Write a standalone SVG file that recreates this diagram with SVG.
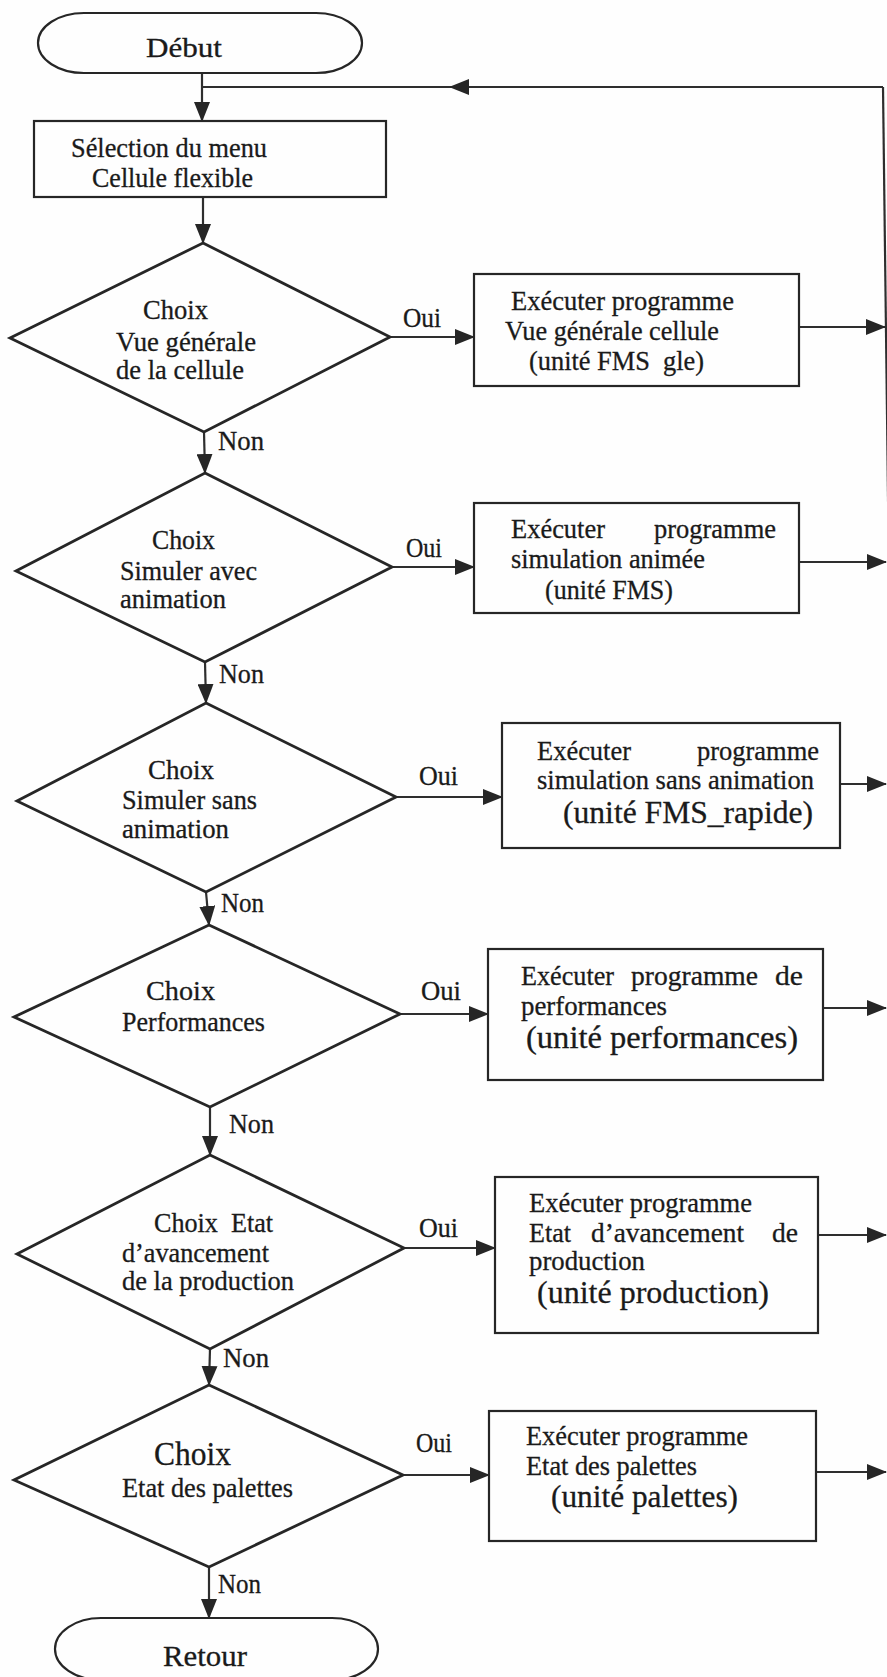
<svg xmlns="http://www.w3.org/2000/svg" width="887" height="1677" viewBox="0 0 887 1677">
  <defs>
    <marker id="arrow" markerUnits="userSpaceOnUse" viewBox="0 0 20 16" refX="19" refY="8" markerWidth="20" markerHeight="16" orient="auto">
      <path d="M0,0 L20,8 L0,16 Z" fill="#262626"/>
    </marker>
    <style>
      .bg { fill: #fefefe; }
      .shape { fill: none; stroke: #262626; stroke-width: 2.2; }
      .dia { fill: none; stroke: #262626; stroke-width: 2.8; stroke-linejoin: miter; }
      .wire { fill: none; stroke: #2e2e2e; stroke-width: 2.2; }
      .arr { marker-end: url(#arrow); }
      text { font-family: "Liberation Serif", "Times New Roman", serif; fill: #1a1a1a; stroke: #1a1a1a; stroke-width: 0.3; font-size: 27px; }
      .big { font-size: 32px; }
      .lbl { font-size: 27px; }
    </style>
  </defs>

  <rect class="bg" x="0" y="0" width="887" height="1677"/>

  <!-- connectors -->
  <g id="connectors">
    <line class="wire arr" x1="202" y1="73" x2="202" y2="121"/>
    <line class="wire arr" x1="883" y1="87" x2="450" y2="87"/>
    <line class="wire" x1="450" y1="87" x2="202" y2="87"/>
    <line class="wire" x1="883" y1="87" x2="900" y2="1475"/>
    <line class="wire arr" x1="203" y1="197" x2="203" y2="243"/>

    <line class="wire arr" x1="390" y1="337" x2="474" y2="337"/>
    <line class="wire arr" x1="799" y1="327" x2="885" y2="327"/>
    <line class="wire arr" x1="204" y1="432" x2="205" y2="473"/>

    <line class="wire arr" x1="392" y1="567" x2="474" y2="567"/>
    <line class="wire arr" x1="799" y1="562" x2="886" y2="562"/>
    <line class="wire arr" x1="205" y1="662" x2="206" y2="703"/>

    <line class="wire arr" x1="396" y1="797" x2="502" y2="797"/>
    <line class="wire arr" x1="840" y1="784" x2="886" y2="784"/>
    <line class="wire arr" x1="206" y1="892" x2="209" y2="925"/>

    <line class="wire arr" x1="400" y1="1014" x2="488" y2="1014"/>
    <line class="wire arr" x1="823" y1="1008" x2="886" y2="1008"/>
    <line class="wire arr" x1="210" y1="1107" x2="210" y2="1155"/>

    <line class="wire arr" x1="404" y1="1248" x2="495" y2="1248"/>
    <line class="wire arr" x1="818" y1="1235" x2="886" y2="1235"/>
    <line class="wire arr" x1="210" y1="1349" x2="209" y2="1385"/>

    <line class="wire arr" x1="403" y1="1475" x2="489" y2="1475"/>
    <line class="wire arr" x1="816" y1="1472" x2="886" y2="1472"/>
    <line class="wire arr" x1="209" y1="1567" x2="209" y2="1618"/>

    <!-- branch labels -->
    <text class="lbl" x="403" y="327" textLength="38" lengthAdjust="spacingAndGlyphs">Oui</text>
    <text class="lbl" x="218" y="450" textLength="46" lengthAdjust="spacingAndGlyphs">Non</text>
    <text class="lbl" x="406" y="557" textLength="36" lengthAdjust="spacingAndGlyphs">Oui</text>
    <text class="lbl" x="219" y="683" textLength="45" lengthAdjust="spacingAndGlyphs">Non</text>
    <text class="lbl" x="419" y="785" textLength="39" lengthAdjust="spacingAndGlyphs">Oui</text>
    <text class="lbl" x="221" y="912" textLength="43" lengthAdjust="spacingAndGlyphs">Non</text>
    <text class="lbl" x="421" y="1000" textLength="40" lengthAdjust="spacingAndGlyphs">Oui</text>
    <text class="lbl" x="229" y="1133" textLength="45" lengthAdjust="spacingAndGlyphs">Non</text>
    <text class="lbl" x="419" y="1237" textLength="39" lengthAdjust="spacingAndGlyphs">Oui</text>
    <text class="lbl" x="223" y="1367" textLength="46" lengthAdjust="spacingAndGlyphs">Non</text>
    <text class="lbl" x="416" y="1452" textLength="36" lengthAdjust="spacingAndGlyphs">Oui</text>
    <text class="lbl" x="218" y="1593" textLength="43" lengthAdjust="spacingAndGlyphs">Non</text>
  </g>

  <!-- start terminal -->
  <g id="debut">
    <rect class="shape" x="38" y="13" width="324" height="60" rx="46" ry="30"/>
    <text x="146" y="57" style="font-size:27px" textLength="76" lengthAdjust="spacingAndGlyphs">Début</text>
  </g>

  <!-- menu selection -->
  <g id="selection-menu">
    <rect class="shape" x="34" y="121" width="352" height="76"/>
    <text x="71" y="157" textLength="196" lengthAdjust="spacingAndGlyphs">Sélection du menu</text>
    <text x="92" y="187" textLength="161" lengthAdjust="spacingAndGlyphs">Cellule flexible</text>
  </g>

  <!-- decision 1 -->
  <g id="choix-vue-generale">
    <polygon class="dia" points="203,243 390,337 204,432 10,338"/>
    <text x="143" y="319" textLength="65" lengthAdjust="spacingAndGlyphs">Choix</text>
    <text x="116" y="351" textLength="140" lengthAdjust="spacingAndGlyphs">Vue générale</text>
    <text x="116" y="379" textLength="128" lengthAdjust="spacingAndGlyphs">de la cellule</text>
  </g>
  <g id="prog-vue-generale">
    <rect class="shape" x="474" y="274" width="325" height="112"/>
    <text x="511" y="310" textLength="223" lengthAdjust="spacingAndGlyphs">Exécuter programme</text>
    <text x="505" y="340" textLength="214" lengthAdjust="spacingAndGlyphs">Vue générale cellule</text>
    <text x="529" y="370" textLength="175" lengthAdjust="spacingAndGlyphs" xml:space="preserve">(unité FMS  gle)</text>
  </g>

  <!-- decision 2 -->
  <g id="choix-simuler-animation">
    <polygon class="dia" points="205,473 392,567 205,662 16,571"/>
    <text x="152" y="549" textLength="63" lengthAdjust="spacingAndGlyphs">Choix</text>
    <text x="120" y="580" textLength="137" lengthAdjust="spacingAndGlyphs">Simuler avec</text>
    <text x="120" y="608" textLength="106" lengthAdjust="spacingAndGlyphs">animation</text>
  </g>
  <g id="prog-simulation-animee">
    <rect class="shape" x="474" y="503" width="325" height="110"/>
    <text x="511" y="538" textLength="94" lengthAdjust="spacingAndGlyphs">Exécuter</text>
    <text x="654" y="538" textLength="122" lengthAdjust="spacingAndGlyphs">programme</text>
    <text x="511" y="568" textLength="194" lengthAdjust="spacingAndGlyphs">simulation animée</text>
    <text x="545" y="599" textLength="128" lengthAdjust="spacingAndGlyphs">(unité FMS)</text>
  </g>

  <!-- decision 3 -->
  <g id="choix-simuler-sans-animation">
    <polygon class="dia" points="206,703 396,797 206,892 17,801"/>
    <text x="148" y="779" textLength="66" lengthAdjust="spacingAndGlyphs">Choix</text>
    <text x="122" y="809" textLength="135" lengthAdjust="spacingAndGlyphs">Simuler sans</text>
    <text x="122" y="838" textLength="107" lengthAdjust="spacingAndGlyphs">animation</text>
  </g>
  <g id="prog-simulation-rapide">
    <rect class="shape" x="502" y="723" width="338" height="125"/>
    <text x="537" y="760" textLength="94" lengthAdjust="spacingAndGlyphs">Exécuter</text>
    <text x="697" y="760" textLength="122" lengthAdjust="spacingAndGlyphs">programme</text>
    <text x="537" y="789" textLength="277" lengthAdjust="spacingAndGlyphs">simulation sans animation</text>
    <text class="big" x="563" y="823" textLength="250" lengthAdjust="spacingAndGlyphs">(unité FMS_rapide)</text>
  </g>

  <!-- decision 4 -->
  <g id="choix-performances">
    <polygon class="dia" points="209,925 400,1014 210,1107 14,1017"/>
    <text x="146" y="1000" textLength="69" lengthAdjust="spacingAndGlyphs">Choix</text>
    <text x="122" y="1031" textLength="143" lengthAdjust="spacingAndGlyphs">Performances</text>
  </g>
  <g id="prog-performances">
    <rect class="shape" x="488" y="949" width="335" height="131"/>
    <text x="521" y="985" textLength="93" lengthAdjust="spacingAndGlyphs">Exécuter</text>
    <text x="631" y="985" textLength="127" lengthAdjust="spacingAndGlyphs">programme</text>
    <text x="775" y="985" textLength="28" lengthAdjust="spacingAndGlyphs">de</text>
    <text x="521" y="1015" textLength="146" lengthAdjust="spacingAndGlyphs">performances</text>
    <text class="big" x="526" y="1048" textLength="272" lengthAdjust="spacingAndGlyphs">(unité performances)</text>
  </g>

  <!-- decision 5 -->
  <g id="choix-etat-avancement">
    <polygon class="dia" points="210,1155 404,1248 210,1349 17,1254"/>
    <text x="154" y="1232" textLength="119" lengthAdjust="spacingAndGlyphs" xml:space="preserve">Choix  Etat</text>
    <text x="122" y="1262" textLength="147" lengthAdjust="spacingAndGlyphs">d’avancement</text>
    <text x="122" y="1290" textLength="172" lengthAdjust="spacingAndGlyphs">de la production</text>
  </g>
  <g id="prog-production">
    <rect class="shape" x="495" y="1177" width="323" height="156"/>
    <text x="529" y="1212" textLength="223" lengthAdjust="spacingAndGlyphs">Exécuter programme</text>
    <text x="529" y="1242" textLength="42" lengthAdjust="spacingAndGlyphs">Etat</text>
    <text x="591" y="1242" textLength="153" lengthAdjust="spacingAndGlyphs">d’avancement</text>
    <text x="772" y="1242" textLength="26" lengthAdjust="spacingAndGlyphs">de</text>
    <text x="529" y="1270" textLength="116" lengthAdjust="spacingAndGlyphs">production</text>
    <text class="big" x="537" y="1303" textLength="232" lengthAdjust="spacingAndGlyphs">(unité production)</text>
  </g>

  <!-- decision 6 -->
  <g id="choix-etat-palettes">
    <polygon class="dia" points="209,1385 403,1475 209,1567 14,1480"/>
    <text x="154" y="1465" style="font-size:33px" textLength="77" lengthAdjust="spacingAndGlyphs">Choix</text>
    <text x="122" y="1497" textLength="171" lengthAdjust="spacingAndGlyphs">Etat des palettes</text>
  </g>
  <g id="prog-palettes">
    <rect class="shape" x="489" y="1411" width="327" height="130"/>
    <text x="526" y="1445" textLength="222" lengthAdjust="spacingAndGlyphs">Exécuter programme</text>
    <text x="526" y="1475" textLength="171" lengthAdjust="spacingAndGlyphs">Etat des palettes</text>
    <text class="big" x="551" y="1507" textLength="187" lengthAdjust="spacingAndGlyphs">(unité palettes)</text>
  </g>

  <!-- end terminal -->
  <g id="retour">
    <rect class="shape" x="55" y="1618" width="323" height="62" rx="46" ry="31"/>
    <text x="163" y="1666" style="font-size:30px" textLength="84" lengthAdjust="spacingAndGlyphs">Retour</text>
  </g>
</svg>
